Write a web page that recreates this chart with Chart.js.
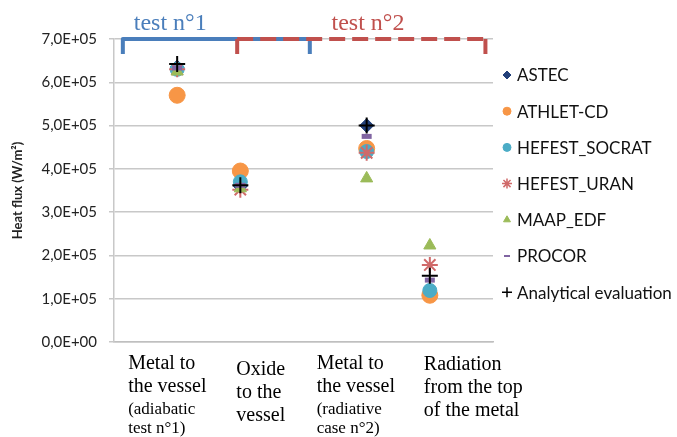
<!DOCTYPE html>
<html>
<head>
<meta charset="utf-8">
<script src="https://cdn.jsdelivr.net/npm/chart.js@4.4.1/dist/chart.umd.min.js"></script>
<style>
  body { margin: 0; background: #fff; }
  #wrap { width: 677px; height: 437px; }
</style>
</head>
<body>
<div id="wrap"><canvas id="fluxChart" width="677" height="437"></canvas></div>
<script>
  // Data
  const categoryX = [1, 2, 4, 5];
  const categoryLabels = [
    ['Metal to', 'the vessel', '(adiabatic', 'test n°1)'],
    ['Oxide', 'to the', 'vessel'],
    ['Metal to', 'the vessel', '(radiative', 'case n°2)'],
    ['Radiation', 'from the top', 'of the metal']
  ];
  const yTickLabels = ['0,0E+00', '1,0E+05', '2,0E+05', '3,0E+05', '4,0E+05', '5,0E+05', '6,0E+05', '7,0E+05'];

  const seriesNames = ['ASTEC', 'ATHLET-CD', 'HEFEST_SOCRAT', 'HEFEST_URAN', 'MAAP_EDF', 'PROCOR', 'Analytical evaluation'];
  const astec      = [6.35e5, 3.60e5, 5.00e5, 1.12e5];
  const athlet     = [5.70e5, 3.95e5, 4.47e5, 1.08e5];
  const socrat     = [6.30e5, 3.70e5, 4.40e5, 1.19e5];
  const uran       = [6.30e5, 3.52e5, 4.37e5, 1.78e5];
  const maap       = [6.25e5, 3.55e5, 3.78e5, 2.23e5];
  const procor     = [6.33e5, 3.62e5, 4.75e5, 1.43e5];
  const analytical = [6.42e5, 3.62e5, 5.00e5, 1.53e5];
  const seriesValues = [astec, athlet, socrat, uran, maap, procor, analytical];

  // marker look per series
  const markerStyles = [
    { pointStyle: 'rectRot',  color: '#22407a', radius: 7, border: 1 },
    { pointStyle: 'circle',   color: '#f79646', radius: 8, border: 1 },
    { pointStyle: 'circle',   color: '#4bacc6', radius: 7, border: 1 },
    { pointStyle: 'star',     color: '#d06a6a', radius: 8, border: 2 },
    { pointStyle: 'triangle', color: '#9bbb59', radius: 7, border: 1 },
    { pointStyle: 'line',     color: '#8064a2', radius: 5, border: 5 },
    { pointStyle: 'cross',    color: '#000000', radius: 8, border: 2 }
  ];
  const legendMarkers = [
    { radius: 4, border: 1 }, { radius: 4, border: 1 }, { radius: 4, border: 1 },
    { radius: 5, border: 1.5 }, { radius: 4, border: 1 }, { radius: 3, border: 2 },
    { radius: 5, border: 1.5 }
  ];

  const datasets = seriesNames.map((name, i) => ({
    label: name,
    data: seriesValues[i].map((v, k) => ({ x: categoryX[k], y: v })),
    pointStyle: markerStyles[i].pointStyle,
    pointRadius: markerStyles[i].radius,
    pointHoverRadius: markerStyles[i].radius,
    pointBorderWidth: markerStyles[i].border,
    backgroundColor: markerStyles[i].color,
    borderColor: markerStyles[i].color,
    order: seriesNames.length - i
  }));

  // Brackets, group titles, category text and legend
  const annotations = {
    id: 'annotations',
    afterDraw(chart) {
      const { ctx } = chart;
      const xs = chart.scales.x, ys = chart.scales.y;
      const top = ys.getPixelForValue(7e5);

      ctx.save();
      ctx.lineCap = 'butt';
      // test n°1 bracket (solid blue)
      ctx.strokeStyle = '#4a7ebb';
      ctx.lineWidth = 4;
      ctx.lineJoin = 'round';
      ctx.beginPath();
      ctx.moveTo(xs.getPixelForValue(0.14), top + 15);
      ctx.lineTo(xs.getPixelForValue(0.14), top);
      ctx.lineTo(xs.getPixelForValue(3.1), top);
      ctx.lineTo(xs.getPixelForValue(3.1), top + 15);
      ctx.stroke();
      // test n°2 bracket (dashed red)
      ctx.strokeStyle = '#c0504d';
      ctx.beginPath();
      ctx.moveTo(xs.getPixelForValue(1.95), top + 15);
      ctx.lineTo(xs.getPixelForValue(1.95), top);
      ctx.stroke();
      ctx.beginPath();
      ctx.moveTo(xs.getPixelForValue(5.88), top);
      ctx.lineTo(xs.getPixelForValue(5.88), top + 15);
      ctx.stroke();
      ctx.setLineDash([16, 7]);
      ctx.beginPath();
      ctx.moveTo(xs.getPixelForValue(1.95), top);
      ctx.lineTo(xs.getPixelForValue(5.88), top);
      ctx.stroke();
      ctx.setLineDash([]);

      ctx.font = '24px "Liberation Serif"';
      ctx.textAlign = 'center';
      ctx.textBaseline = 'alphabetic';
      ctx.fillStyle = '#4a7ebb';
      ctx.fillText('test n°1', xs.getPixelForValue(0.89), 30);
      ctx.fillStyle = '#c0504d';
      ctx.fillText('test n°2', xs.getPixelForValue(4.02), 30);

      // category text under the axis
      const dx = [-49, -4, -50, -6];
      const firstY = [364, 370, 364, 365];
      ctx.textAlign = 'left';
      ctx.textBaseline = 'middle';
      ctx.fillStyle = '#000';
      categoryLabels.forEach((lines, i) => {
        const x = xs.getPixelForValue(categoryX[i]) + dx[i];
        lines.forEach((t, j) => {
          const small = t.startsWith('(') || t.endsWith(')');
          ctx.font = (small ? '17px' : '20px') + ' "Liberation Serif"';
          let y = firstY[i] + j * 23;
          if (small && j === 3) y -= 4;
          ctx.fillText(t, x, y);
        });
      });

      // legend
      ctx.font = '17px Lato';
      ctx.textBaseline = 'middle';
      chart.data.datasets.forEach((ds, i) => {
        const y = 75 + i * 36.2;
        ctx.fillStyle = ds.backgroundColor;
        ctx.strokeStyle = ds.borderColor;
        ctx.lineWidth = legendMarkers[i].border;
        Chart.helpers.drawPoint(ctx, {
          pointStyle: ds.pointStyle,
          radius: legendMarkers[i].radius,
          rotation: 0,
          borderWidth: legendMarkers[i].border
        }, 507, y);
        ctx.fillStyle = '#111';
        ctx.fillText(ds.label, 517, y + 1);
      });
      ctx.restore();
    }
  };

  Chart.defaults.font.family = 'Lato';
  Chart.defaults.color = '#222';

  new Chart(document.getElementById('fluxChart'), {
    type: 'scatter',
    data: { datasets },
    plugins: [annotations],
    options: {
      responsive: false,
      animation: false,
      layout: { padding: { left: 0, top: 39, right: 184, bottom: 87 } },
      plugins: { legend: { display: false }, tooltip: { enabled: false } },
      scales: {
        x: {
          type: 'linear', min: 0, max: 6,
          ticks: { display: false },
          grid: { display: false },
          border: { display: true, color: '#bfbfbf', width: 1.5 }
        },
        y: {
          min: 0, max: 7e5,
          afterFit: s => { s.width = 114; },
          ticks: {
            stepSize: 1e5,
            padding: 12,
            font: { size: 15 },
            color: '#222',
            callback: v => yTickLabels[Math.round(v / 1e5)]
          },
          grid: { color: '#c8c8c8', lineWidth: 1.5, tickLength: 5 },
          border: { color: '#c8c8c8', width: 1.5 },
          title: {
            display: true,
            text: 'Heat flux (W/m²)',
            font: { size: 13, weight: 'bold' },
            color: '#222',
            padding: { top: 10 }
          }
        }
      }
    }
  });
</script>
</body>
</html>
